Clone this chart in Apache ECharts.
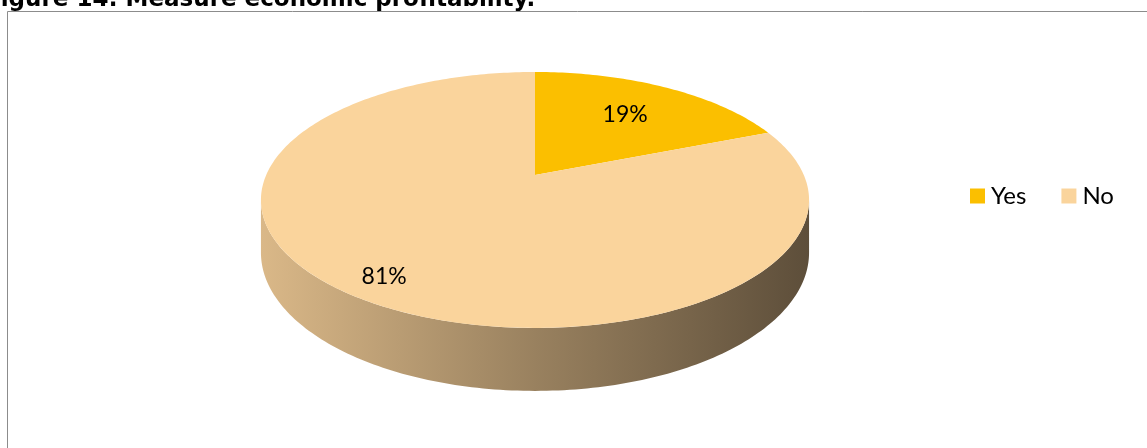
<!DOCTYPE html>
<html>
<head>
<meta charset="utf-8">
<script src="https://cdn.jsdelivr.net/npm/echarts@6/dist/echarts.min.js"></script>
<style>
  html, body { margin: 0; padding: 0; background: #ffffff; }
  #chart { width: 1147px; height: 448px; }
</style>
</head>
<body>
<div id="chart"></div>
<script>
// Survey answers: does the company measure economic profitability?
const categories = ['Yes', 'No'];
const shares = [19, 81];                      // percent of respondents
const sliceColors = ['#FBBF00', '#FAD49C'];
const titleText = 'Figure 14: Measure economic profitability.';

// Tilted-disc projection used to draw the 3D pie
const CX = 535, CY = 175;     // screen position of the pie centre
const RX = 268.8, RY = 123.1; // horizontal / vertical radius at centre depth
const PERSP = 0.195;          // perspective strength (near side looks larger)
const DEPTH = 50.7;           // thickness of the disc at centre depth
const LABEL_R = [0.66, 0.86]; // label distance from centre, fraction of radius

// angle in degrees clockwise from the far (top) point, r in 0..1, drop in 0..1
function project(phiDeg, r, drop) {
  const p = phiDeg * Math.PI / 180;
  const xh = Math.sin(p) * r;
  const z = -Math.cos(p) * r;
  const s = 1 / (1 - PERSP * z);
  return [CX + RX * xh * s, CY + RY * z * s + drop * DEPTH * s];
}

function shade(hex, k) {
  const n = parseInt(hex.slice(1), 16);
  const c = [(n >> 16) & 255, (n >> 8) & 255, n & 255].map(v => Math.round(v * k));
  return 'rgb(' + c.join(',') + ')';
}

// the side wall is visible between the two silhouette angles (through the front)
const SIDE_FROM = 90 + Math.asin(PERSP) * 180 / Math.PI;
const SIDE_TO = 270 - Math.asin(PERSP) * 180 / Math.PI;

const total = shares.reduce((a, b) => a + b, 0);

function makeSlice(idx) {
  const before = shares.slice(0, idx).reduce((a, b) => a + b, 0);
  return function (params, api) {
    const value = api.value(0);
    const a0 = before / total * 360;
    const a1 = (before + value) / total * 360;
    const color = sliceColors[idx];
    const children = [];

    // side wall
    const s0 = Math.max(a0, SIDE_FROM), s1 = Math.min(a1, SIDE_TO);
    if (s1 > s0) {
      const topPts = [], botPts = [];
      const n = Math.max(2, Math.ceil(s1 - s0));
      for (let i = 0; i <= n; i++) {
        const a = s0 + (s1 - s0) * i / n;
        topPts.push(project(a, 1, 0));
        botPts.push(project(a, 1, 1));
      }
      children.push({
        type: 'polygon',
        z2: 1,
        shape: { points: topPts.concat(botPts.reverse()) },
        style: {
          fill: {
            type: 'linear', global: true,
            x: CX - RX * 1.02, y: 0, x2: CX + RX * 1.02, y2: 0,
            colorStops: [
              { offset: 0, color: shade(color, 0.87) },
              { offset: 0.5, color: shade(color, 0.61) },
              { offset: 1, color: shade(color, 0.37) }
            ]
          }
        }
      });
    }

    // top face
    const face = [project(0, 0, 0)];
    const steps = Math.max(2, Math.ceil(a1 - a0));
    for (let i = 0; i <= steps; i++) {
      face.push(project(a0 + (a1 - a0) * i / steps, 1, 0));
    }
    children.push({
      type: 'polygon',
      z2: 10,
      shape: { points: face },
      style: { fill: color }
    });

    // percentage label
    const lp = project((a0 + a1) / 2, LABEL_R[idx], 0);
    children.push({
      type: 'text',
      z2: 20,
      x: lp[0], y: lp[1],
      style: {
        text: Math.round(value / total * 100) + '%',
        fill: '#000000',
        font: '23px Lato',
        align: 'center',
        verticalAlign: 'middle'
      }
    });

    return { type: 'group', children: children };
  };
}

const chart = echarts.init(document.getElementById('chart'), null, { renderer: 'canvas' });

chart.setOption({
  animation: false,
  backgroundColor: '#ffffff',
  title: {
    text: titleText,
    left: -15,
    top: -11,
    padding: 0,
    textStyle: { fontFamily: 'DejaVu Sans', fontWeight: 'bold', fontSize: 23, color: '#000000' }
  },
  legend: {
    data: categories,
    left: 970,
    top: 184,
    padding: 0,
    icon: 'rect',
    itemWidth: 15,
    itemHeight: 15,
    itemGap: 35,
    textStyle: { fontFamily: 'Lato', fontSize: 24, color: '#000000', padding: [0, 0, 0, 1] }
  },
  graphic: [{
    type: 'rect',
    silent: true,
    z: -10,
    shape: { x: 7.5, y: 11.5, width: 1200, height: 500 },
    style: { fill: 'none', stroke: '#8c8c8c', lineWidth: 1 }
  }],
  series: categories.map((name, i) => ({
    name: name,
    type: 'custom',
    coordinateSystem: 'none',
    silent: true,
    itemStyle: { color: sliceColors[i] },
    data: [[shares[i]]],
    renderItem: makeSlice(i)
  }))
});
</script>
</body>
</html>
